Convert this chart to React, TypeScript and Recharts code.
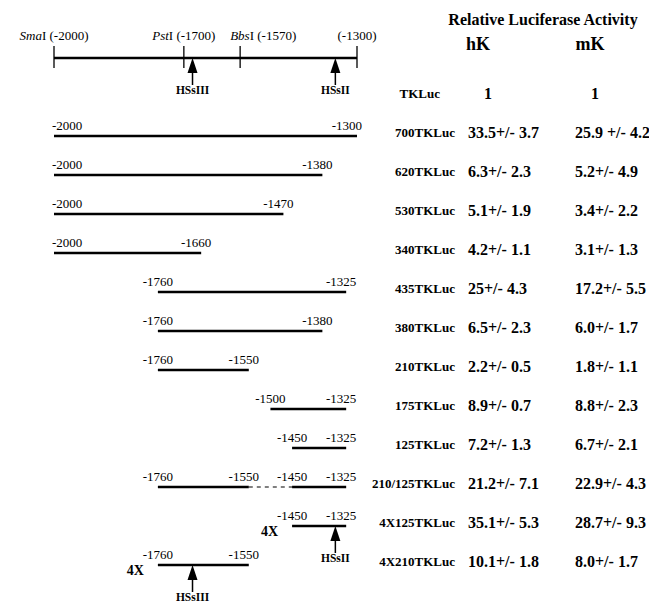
import React from 'react';
import { ComposedChart, XAxis, YAxis, Scatter, ReferenceLine, Customized } from 'recharts';

const FONT = '"Liberation Serif", "DejaVu Serif", serif';

// promoter map
const mapSpan = [-2000, -1300];
const siteEnzymes = ['SmaI', 'PstI', 'BbsI', ''];
const sitePositions = [-2000, -1700, -1570, -1300];
const hsNames = ['HSsIII', 'HSsII'];
const hsPositions = [-1680, -1350];

// table rows
const rowNames = [
  'TKLuc', '700TKLuc', '620TKLuc', '530TKLuc', '340TKLuc', '435TKLuc', '380TKLuc',
  '210TKLuc', '175TKLuc', '125TKLuc', '210/125TKLuc', '4X125TKLuc', '4X210TKLuc',
];
const hKActivity = [
  '1', '33.5+/- 3.7', '6.3+/- 2.3', '5.1+/- 1.9', '4.2+/- 1.1', '25+/- 4.3', '6.5+/- 2.3',
  '2.2+/- 0.5', '8.9+/- 0.7', '7.2+/- 1.3', '21.2+/- 7.1', '35.1+/- 5.3', '10.1+/- 1.8',
];
const mKActivity = [
  '1', '25.9 +/- 4.2', '5.2+/- 4.9', '3.4+/- 2.2', '3.1+/- 1.3', '17.2+/- 5.5', '6.0+/- 1.7',
  '1.8+/- 1.1', '8.8+/- 2.3', '6.7+/- 2.1', '22.9+/- 4.3', '28.7+/- 9.3', '8.0+/- 1.7',
];

// constructs (rowNames[1..])
const constructStart = [-2000, -2000, -2000, -2000, -1760, -1760, -1760, -1500, -1450, -1760, -1450, -1760];
const constructEnd = [-1300, -1380, -1470, -1660, -1325, -1380, -1550, -1325, -1325, -1325, -1325, -1550];
const deletionRow = '210/125TKLuc';
const deletionFrom = -1550;
const deletionTo = -1450;
const multimerRows = ['4X125TKLuc', '4X210TKLuc'];
const multimerCopies = ['4X', '4X'];
const multimerHS = ['HSsII', 'HSsIII'];

const constructNames = rowNames.slice(1);
const rowIndex = (name: string) => rowNames.indexOf(name) + 1; // map is row 0

type Seg = { x1: number; x2: number; y: number; dashed: boolean };
const segments: Seg[] = [];
constructNames.forEach((name, i) => {
  const y = rowIndex(name);
  if (name === deletionRow) {
    segments.push({ x1: constructStart[i], x2: deletionFrom, y, dashed: false });
    segments.push({ x1: deletionFrom, x2: deletionTo, y, dashed: true });
    segments.push({ x1: deletionTo, x2: constructEnd[i], y, dashed: false });
  } else {
    segments.push({ x1: constructStart[i], x2: constructEnd[i], y, dashed: false });
  }
});

const endLabels = segments
  .filter((s) => !s.dashed)
  .flatMap((s) => [
    { x: s.x1, y: s.y, text: String(s.x1), role: 'start' },
    { x: s.x2, y: s.y, text: String(s.x2), role: 'end' },
  ]);

const siteData = sitePositions.map((x, i) => ({ x, y: 0, name: siteEnzymes[i] }));
const hsData = [
  ...hsPositions.map((x, i) => ({ x, y: 0, label: hsNames[i] })),
  ...multimerRows.map((r, i) => ({
    x: hsPositions[hsNames.indexOf(multimerHS[i])],
    y: rowIndex(r),
    label: multimerHS[i],
  })),
];
const multimerData = multimerRows.map((r, i) => ({
  x: constructStart[constructNames.indexOf(r)],
  y: rowIndex(r),
  text: multimerCopies[i],
}));
const rowData = rowNames.map((name, i) => ({
  x: mapSpan[1],
  y: i + 1,
  name,
  hK: hKActivity[i],
  mK: mKActivity[i],
}));

const SiteShape = (p: any) => {
  const { cx, cy, payload } = p;
  const nm: string = payload.name;
  const pos = `(${payload.x})`;
  let anchor: 'middle' | 'start' = 'middle';
  let dx = 0;
  if (nm === 'BbsI') {
    anchor = 'start';
    dx = -10;
  }
  return (
    <g>
      <line x1={cx} x2={cx} y1={cy - 12} y2={cy + 10} stroke="#000" strokeWidth={1.3} />
      <text x={cx + dx} y={cy - 18} textAnchor={anchor} fontFamily={FONT} fontSize={13} fill="#000">
        {nm ? <tspan fontStyle="italic">{nm.slice(0, -1)}</tspan> : null}
        {nm ? <tspan>{nm.slice(-1) + ' '}</tspan> : null}
        <tspan>{pos}</tspan>
      </text>
    </g>
  );
};

const ArrowShape = (p: any) => {
  const { cx, cy, payload } = p;
  return (
    <g>
      <polygon points={`${cx},${cy} ${cx - 5},${cy + 15} ${cx + 5},${cy + 15}`} fill="#000" />
      <line x1={cx} x2={cx} y1={cy + 14} y2={cy + 27} stroke="#000" strokeWidth={1.5} />
      <text x={cx} y={cy + 36} textAnchor="middle" fontFamily={FONT} fontWeight="bold" fontSize={11.5} fill="#000">
        {payload.label}
      </text>
    </g>
  );
};

const EndLabelShape = (p: any) => {
  const { cx, cy, payload } = p;
  let anchor: 'middle' | 'start' | 'end' = 'middle';
  let dx = 0;
  if (payload.x === mapSpan[0]) {
    anchor = 'start';
    dx = -2;
  } else if (payload.x === mapSpan[1]) {
    anchor = 'end';
    dx = 5;
  } else if (payload.role === 'end') {
    dx = -5;
  }
  return (
    <text x={cx + dx} y={cy - 6} textAnchor={anchor} fontFamily={FONT} fontSize={13} fill="#000">
      {payload.text}
    </text>
  );
};

const MultimerShape = (p: any) => {
  const { cx, cy, payload } = p;
  return (
    <text x={cx - 14} y={cy + 10} textAnchor="end" fontFamily={FONT} fontWeight="bold" fontSize={14} fill="#000">
      {payload.text}
    </text>
  );
};

const RowShape = (p: any) => {
  const { cy, payload } = p;
  const base = payload.name === 'TKLuc';
  return (
    <g fontFamily={FONT} fontWeight="bold" fill="#000">
      <text x={base ? 440 : 455} y={cy + 0.5} textAnchor="end" fontSize={13}>
        {payload.name}
      </text>
      <text x={base ? 488 : 468} y={cy + 1.5} textAnchor={base ? 'middle' : 'start'} fontSize={16}>
        {payload.hK}
      </text>
      <text x={base ? 595 : 575} y={cy + 1.5} textAnchor={base ? 'middle' : 'start'} fontSize={16}>
        {payload.mK}
      </text>
    </g>
  );
};

const Headers = () => (
  <g fontFamily={FONT} fontWeight="bold" fill="#000">
    <text x={543} y={25} textAnchor="middle" fontSize={16}>
      Relative Luciferase Activity
    </text>
    <text x={478} y={50} textAnchor="middle" fontSize={18}>
      hK
    </text>
    <text x={590} y={50} textAnchor="middle" fontSize={18}>
      mK
    </text>
  </g>
);

export default function App() {
  return (
    <div style={{ position: 'absolute', left: 0, top: 0, background: '#fff' }}>
      <ComposedChart width={649} height={609} margin={{ top: 58, right: 292, bottom: 44, left: 54 }}>
        <XAxis type="number" dataKey="x" domain={mapSpan} tickCount={8} hide />
        <YAxis type="number" dataKey="y" domain={[0, 13]} tickCount={14} reversed hide />
        <ReferenceLine
          segment={[
            { x: mapSpan[0], y: 0 },
            { x: mapSpan[1], y: 0 },
          ]}
          stroke="#000"
          strokeWidth={2.6}
        />
        {segments.map((s, i) => (
          <ReferenceLine
            key={i}
            segment={[
              { x: s.x1, y: s.y },
              { x: s.x2, y: s.y },
            ]}
            stroke="#000"
            strokeWidth={s.dashed ? 1.2 : 2.4}
            strokeDasharray={s.dashed ? '4 4' : undefined}
          />
        ))}
        <Scatter data={siteData} shape={SiteShape} isAnimationActive={false} />
        <Scatter data={hsData} shape={ArrowShape} isAnimationActive={false} />
        <Scatter data={endLabels} shape={EndLabelShape} isAnimationActive={false} />
        <Scatter data={multimerData} shape={MultimerShape} isAnimationActive={false} />
        <Scatter data={rowData} shape={RowShape} isAnimationActive={false} />
        <Customized component={Headers} />
      </ComposedChart>
    </div>
  );
}
